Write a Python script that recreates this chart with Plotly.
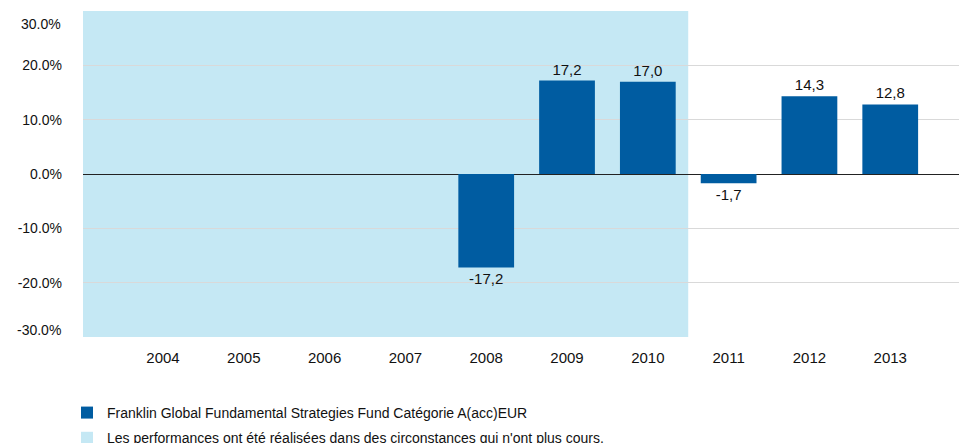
import plotly.graph_objects as go

years = ["2004", "2005", "2006", "2007", "2008", "2009", "2010", "2011", "2012", "2013"]
fund_values = [None, None, None, None, -17.2, 17.2, 17.0, -1.7, 14.3, 12.8]
y_ticks = [-30, -20, -10, 0, 10, 20, 30]
fund_name = "Franklin Global Fundamental Strategies Fund Catégorie A(acc)EUR"
shade_name = "Les performances ont été réalisées dans des circonstances qui n'ont plus cours."
shade_last_year = "2010"

BAR = "#005CA1"
SHADE = "#C5E8F4"
FONT = "Liberation Sans Narrow, Arial Narrow, Liberation Sans, Arial, sans-serif"

xs = list(range(len(years)))
labels = ["" if v is None else f"{v:.1f}".replace(".", ",") for v in fund_values]
tick_labels = [f"{v:.1f}%" for v in y_ticks]
y_min, y_max = y_ticks[0], y_ticks[-1]

fig = go.Figure()
fig.add_trace(go.Bar(
    x=xs, y=fund_values, name=fund_name, legendgroup="a",
    marker=dict(color=BAR, line=dict(width=0)),
    width=0.69, text=labels, textposition="outside", cliponaxis=False,
    textfont=dict(size=15, color="#111111", family=FONT),
))
# legend entry for the shaded period
fig.add_trace(go.Bar(x=[None], y=[None], name=shade_name, legendgroup="b",
                     marker=dict(color=SHADE, line=dict(width=0))))

shade_end = years.index(shade_last_year) + 0.5
fig.add_shape(type="rect", xref="x", yref="y", x0=-1, x1=shade_end,
              y0=y_min, y1=y_max, fillcolor=SHADE, line=dict(width=0),
              layer="below")

# extreme tick labels are nudged inside the plot height, as in the original
inner_text = [t if v not in (y_min, y_max) else "" for v, t in zip(y_ticks, tick_labels)]
for v, t in zip(y_ticks, tick_labels):
    if v in (y_min, y_max):
        fig.add_annotation(xref="paper", yref="y", x=0, y=v, text=t, showarrow=False,
                           xanchor="right", yanchor="middle", xshift=-20,
                           yshift=(-13 if v == y_max else 7),
                           font=dict(size=14, family=FONT, color="#111111"))

# page body has an 8px margin, so the figure is sized to fit the remaining window
fig.update_layout(
    width=959, height=435,
    margin=dict(l=75, r=0, t=3, b=106, autoexpand=False),
    paper_bgcolor="white", plot_bgcolor="white",
    font=dict(family=FONT, size=15, color="#111111"),
    showlegend=True,
    legend=dict(orientation="v", x=-0.0181, xanchor="left", y=-0.184, yanchor="top",
                font=dict(size=14, family=FONT, color="#111111"),
                tracegroupgap=4, itemsizing="constant", bgcolor="rgba(0,0,0,0)"),
)
fig.update_xaxes(
    range=[-0.99, 9.95], tickvals=xs, ticktext=years, showgrid=False,
    zeroline=False, showline=False, ticks="", ticklabelstandoff=10,
    tickfont=dict(size=15, family=FONT), automargin=False,
)
fig.update_yaxes(
    range=[y_min, y_max], tickvals=y_ticks, ticktext=inner_text,
    showgrid=True, gridcolor="#D9D9D9", gridwidth=1,
    zeroline=True, zerolinecolor="#222222", zerolinewidth=1,
    showline=False, ticks="", ticklabelstandoff=20,
    tickfont=dict(size=14, family=FONT), automargin=False,
)

fig.write_html("out.html")
